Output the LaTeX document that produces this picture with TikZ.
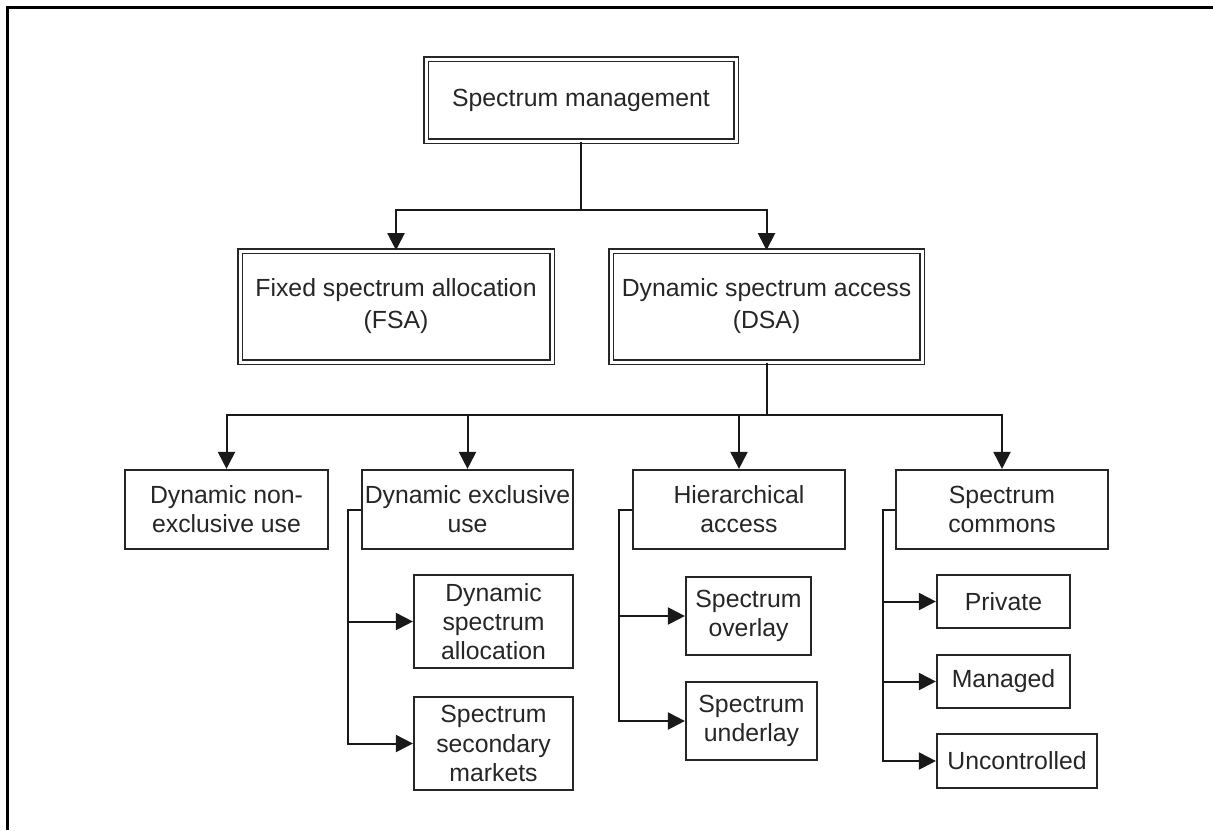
\documentclass[tikz,border=0pt]{standalone}
\usepackage{fontspec}
\setmainfont{Liberation Sans}
\usetikzlibrary{arrows.meta}
\begin{document}
\begin{tikzpicture}[x=0.5pt,y=-0.5pt,
  box/.style={draw=black!85, line width=1.1pt, inner sep=0pt, align=center, font=\fontsize{12.4}{14.6}\selectfont, text=black!85},
  dbox/.style={box, double=white, double distance=1.5pt, line width=0.8pt, font=\fontsize{12.4}{16}\selectfont},
  arr/.style={-{Triangle[length=8.5pt,width=8.5pt]}, line width=1pt, draw=black!90},
  ln/.style={line width=1pt, draw=black!90}]
\useasboundingbox (0,0) rectangle (1213,830);
\draw[line width=1.5pt] (7.5,830) -- (7.5,7.5) -- (1213,7.5);

\node[dbox, minimum width=155pt, minimum height=41pt] (sm) at (581,100) {Spectrum management};
\node[dbox, minimum width=156pt, minimum height=55.5pt] (fsa) at (396,306.5) {Fixed spectrum allocation\\(FSA)};
\node[dbox, minimum width=155.5pt, minimum height=55.5pt] (dsa) at (766.5,306.5) {Dynamic spectrum access\\(DSA)};

\node[box, minimum width=101.5pt, minimum height=39.5pt] (dneu) at (226.5,509.5) {Dynamic non-\\exclusive use};
\node[box, minimum width=105.5pt, minimum height=39.5pt] (deu) at (467.5,509.5) {Dynamic exclusive\\use};
\node[box, minimum width=106pt, minimum height=39.5pt] (ha) at (739,509.5) {Hierarchical\\access};
\node[box, minimum width=106pt, minimum height=39.5pt] (sc) at (1002,509.5) {Spectrum\\commons};

\node[box, minimum width=79.5pt, minimum height=46.5pt] (dsal) at (493.5,621.5) {Dynamic\\spectrum\\allocation};
\node[box, minimum width=79.5pt, minimum height=46.5pt] (ssm) at (493.5,743.5) {Spectrum\\secondary\\markets};

\node[box, minimum width=62.5pt, minimum height=39pt] (so) at (748.5,616) {Spectrum\\overlay};
\node[box, minimum width=65.5pt, minimum height=39pt] (su) at (751.5,721) {Spectrum\\underlay};

\node[box, minimum width=66.5pt, minimum height=26.5pt] (priv) at (1003.5,601.5) {Private};
\node[box, minimum width=66.5pt, minimum height=26.5pt] (man) at (1003.5,681.5) {Managed};
\node[box, minimum width=80pt, minimum height=27pt] (unc) at (1017,761) {Uncontrolled};

\coordinate (j1) at (581,210);
\coordinate (j2) at (766.5,415);
\draw[ln] (sm.south) -- (j1);
\draw[arr] (j1) -| (fsa.north);
\draw[arr] (j1) -| (dsa.north);
\draw[ln] (dsa.south) -- (j2);
\draw[arr] (j2) -| (dneu.north);
\draw[arr] (j2) -| (deu.north);
\draw[arr] (j2) -| (ha.north);
\draw[arr] (j2) -| (sc.north);

\draw[arr] (deu.west) -- ++(-13,0) |- (dsal.west);
\draw[arr] (deu.west) -- ++(-13,0) |- (ssm.west);
\draw[arr] (ha.west) -- ++(-13,0) |- (so.west);
\draw[arr] (ha.west) -- ++(-13,0) |- (su.west);
\draw[arr] (sc.west) -- ++(-12,0) |- (priv.west);
\draw[arr] (sc.west) -- ++(-12,0) |- (man.west);
\draw[arr] (sc.west) -- ++(-12,0) |- (unc.west);
\end{tikzpicture}
\end{document}
